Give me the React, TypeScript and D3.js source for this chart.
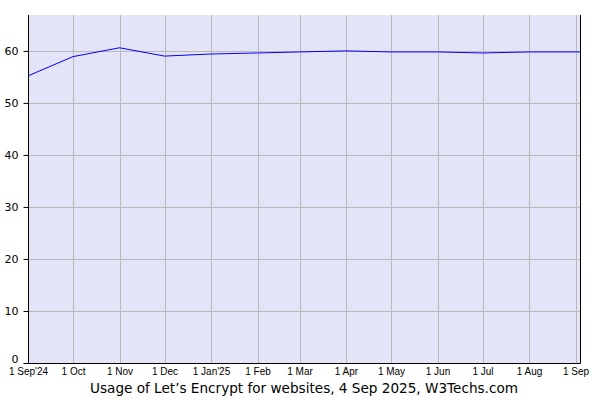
import { useEffect, useRef } from "react";
import * as d3 from "d3";

// monthly share of websites using Let's Encrypt (%)
const dates = [
  "2024-09-01", "2024-10-01", "2024-11-01", "2024-12-01", "2025-01-01",
  "2025-02-01", "2025-03-01", "2025-04-01", "2025-05-01", "2025-06-01",
  "2025-07-01", "2025-08-01", "2025-09-01", "2025-09-04",
];
const usage = [55.2, 58.9, 60.6, 59.0, 59.4, 59.6, 59.8, 60.0, 59.8, 59.8, 59.6, 59.8, 59.8, 59.8];

const tickDates = [
  "2024-09-01", "2024-10-01", "2024-11-01", "2024-12-01", "2025-01-01",
  "2025-02-01", "2025-03-01", "2025-04-01", "2025-05-01", "2025-06-01",
  "2025-07-01", "2025-08-01", "2025-09-01",
];
const tickLabels = [
  "1 Sep'24", "1 Oct", "1 Nov", "1 Dec", "1 Jan'25", "1 Feb", "1 Mar",
  "1 Apr", "1 May", "1 Jun", "1 Jul", "1 Aug", "1 Sep",
];
const yTicks = [0, 10, 20, 30, 40, 50, 60];
const title = "Usage of Let’s Encrypt for websites, 4 Sep 2025, W3Techs.com";

export default function App() {
  const ref = useRef<SVGSVGElement | null>(null);

  useEffect(() => {
    if (!ref.current) return;

    const width = 600;
    const height = 400;
    const margin = { top: 15, right: 20, bottom: 37, left: 28 };

    const svg = d3.select(ref.current);
    svg.selectAll("*").remove();

    const parse = d3.utcParse("%Y-%m-%d");
    const data = dates.map((d, i) => ({ date: parse(d)!, value: usage[i] }));

    /* ---------------- SCALES ---------------- */

    const x = d3
      .scaleUtc()
      .domain([parse("2024-09-01")!, parse("2025-09-04")!])
      .range([margin.left, width - margin.right]);

    const y = d3
      .scaleLinear()
      .domain([0, 66.9])
      .range([height - margin.bottom, margin.top]);

    /* ---------------- BACKGROUND + GRID ---------------- */

    svg.append("rect")
      .attr("x", margin.left)
      .attr("y", margin.top)
      .attr("width", width - margin.left - margin.right)
      .attr("height", height - margin.top - margin.bottom)
      .attr("fill", "#e4e4f8");

    const ticks = tickDates.map(d => parse(d)!);

    svg.append("g")
      .selectAll("line")
      .data(ticks)
      .enter()
      .append("line")
      .attr("x1", d => Math.round(x(d)) + 0.5)
      .attr("x2", d => Math.round(x(d)) + 0.5)
      .attr("y1", margin.top)
      .attr("y2", height - margin.bottom)
      .attr("stroke", "#b8b8b8");

    svg.append("g")
      .selectAll("line")
      .data(yTicks.filter(t => t > 0))
      .enter()
      .append("line")
      .attr("x1", margin.left)
      .attr("x2", width - margin.right)
      .attr("y1", d => Math.round(y(d)) + 0.5)
      .attr("y2", d => Math.round(y(d)) + 0.5)
      .attr("stroke", "#b8b8b8");

    /* ---------------- LINE ---------------- */

    const line = d3.line<{ date: Date; value: number }>()
      .x(d => x(d.date))
      .y(d => y(d.value));

    svg.append("path")
      .datum(data)
      .attr("fill", "none")
      .attr("stroke", "#0000ff")
      .attr("stroke-width", 1)
      .attr("d", line);

    /* ---------------- FRAME ---------------- */

    const bottom = Math.round(y(0)) + 0.5;
    svg.append("path")
      .attr("d", `M${margin.left + 0.5},${margin.top}V${bottom}H${width - margin.right + 0.5}V${margin.top}`)
      .attr("fill", "none")
      .attr("stroke", "#000");

    /* ---------------- AXES ---------------- */

    const gy = svg.append("g")
      .attr("transform", `translate(${margin.left + 0.5},0)`)
      .call(d3.axisLeft(y).tickValues(yTicks).tickSize(5).tickPadding(5));
    gy.select(".domain").remove();
    gy.selectAll(".tick line").attr("stroke", "#000");
    gy.selectAll<SVGTextElement, number>(".tick text")
      .attr("font-family", "DejaVu Sans, Verdana, sans-serif")
      .attr("font-size", 11)
      .attr("dy", d => (d === 0 ? "-0.05em" : "0.32em"))
      .attr("fill", "#000");

    const gx = svg.append("g")
      .attr("transform", `translate(0,${bottom})`)
      .call(
        d3.axisBottom(x)
          .tickValues(ticks)
          .tickSize(0)
          .tickPadding(4)
          .tickFormat((_, i) => tickLabels[i])
      );
    gx.select(".domain").remove();
    gx.selectAll(".tick text")
      .attr("font-family", "Liberation Sans, Arial, sans-serif")
      .attr("font-size", 10)
      .attr("fill", "#000");

    /* ---------------- TITLE ---------------- */

    svg.append("text")
      .attr("x", 304)
      .attr("y", 393)
      .attr("text-anchor", "middle")
      .attr("font-family", "DejaVu Sans, Verdana, sans-serif")
      .attr("font-size", 13.6)
      .attr("fill", "#000")
      .text(title);
  }, []);

  return (
    <svg
      ref={ref}
      width={600}
      height={400}
      style={{ position: "absolute", left: 0, top: 0, background: "#fff" }}
    />
  );
}
